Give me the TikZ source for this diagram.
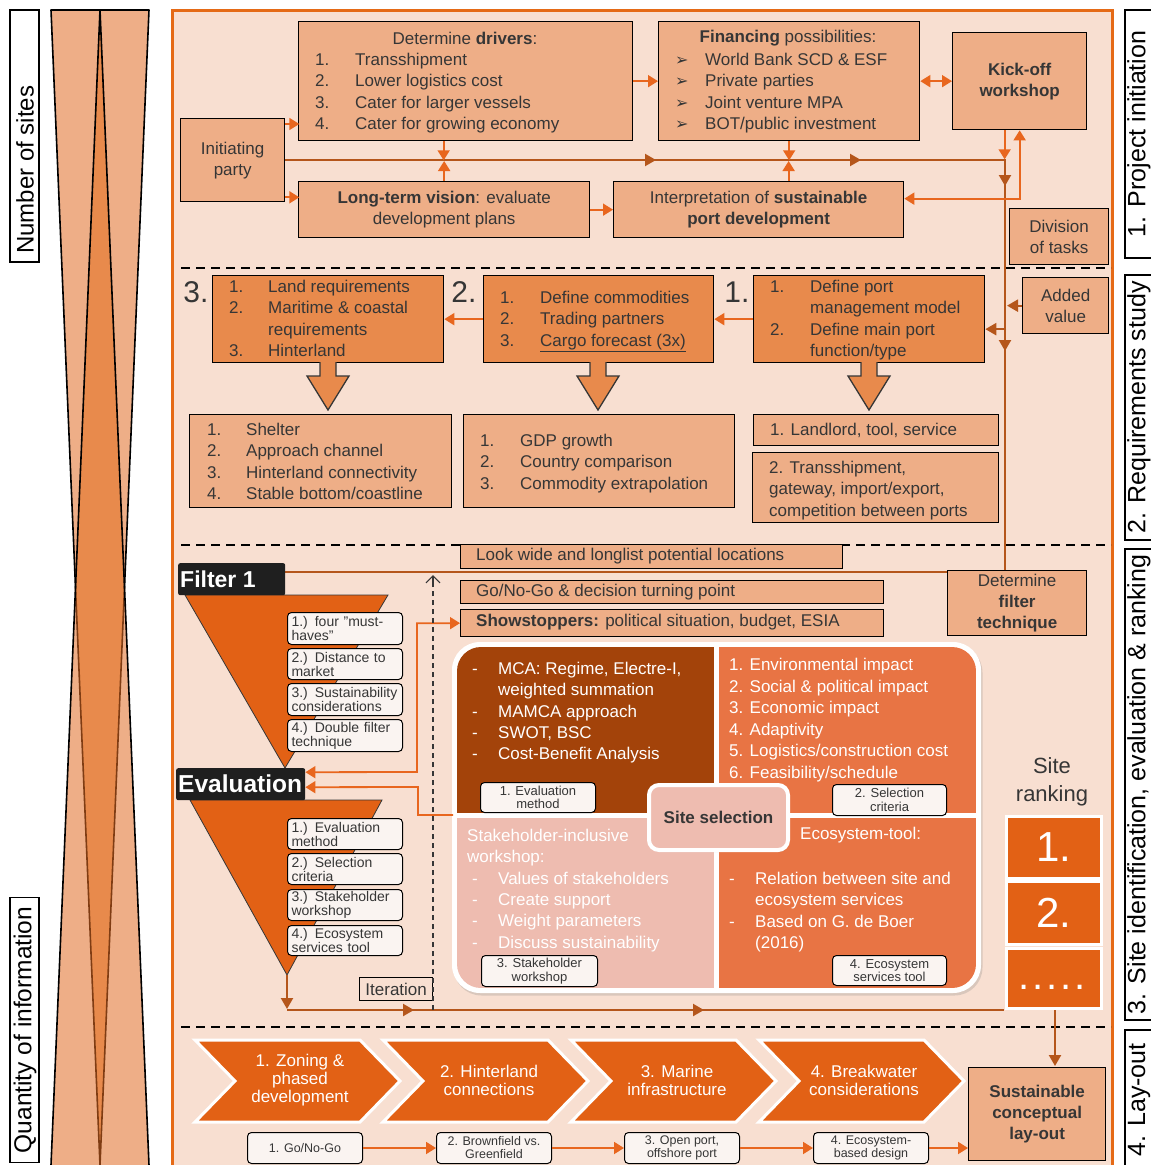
\documentclass[tikz,border=0pt]{standalone}
\usepackage{fontspec}
\setmainfont{Liberation Sans}
\newfontfamily\dv{DejaVu Sans}
\usetikzlibrary{arrows.meta,shadows,calc}
\definecolor{bg}{HTML}{F8DFD1}
\definecolor{lo}{HTML}{EEAE87}
\definecolor{mo}{HTML}{E88A4C}
\definecolor{dor}{HTML}{E26115}
\definecolor{frm}{HTML}{E56A16}
\definecolor{brn}{HTML}{B5561B}
\definecolor{oar}{HTML}{E8661E}
\definecolor{qtl}{HTML}{A3430A}
\definecolor{qtr}{HTML}{E87444}
\definecolor{qbl}{HTML}{EEBCB0}
\definecolor{wbx}{HTML}{FAF4F1}
\definecolor{txt}{HTML}{363636}
\newcommand\fz[2]{\fontsize{#1}{#2}\selectfont}
\newcommand\numbx[2]{\makebox[#1][l]{#2}}
\newcommand\bxat[7]{\node[#1, minimum width=#4-#2, minimum height=#5-#3, anchor=north west] (#6) at (#2,#3) {#7};}
\newcommand\bul{{\dv\fz{16}{16}➢}}
\tikzset{
 bx/.style={draw=black, line width=1.3pt, fill=lo, inner sep=0pt, text=txt, font=\fz{17}{21}, align=center},
 bxm/.style={bx, fill=mo},
 tx/.style={inner sep=0pt, text=txt, font=\fz{17}{21.3}, align=left, anchor=north west},
 wt/.style={tx, text=white},
 sm/.style={draw=black, line width=1pt, fill=wbx, rounded corners=4pt, inner sep=0pt, text=txt, font=\fz{13}{13.5}, align=center},
 smf/.style={sm, align=left, inner xsep=4pt, text width=107pt, font=\fz{14}{14}},
 smb/.style={sm, font=\fz{12.5}{13}},
 oa/.style={draw=oar, line width=1.8pt, -{Triangle[length=10pt,width=12pt]}},
 oab/.style={draw=oar, line width=1.8pt, {Triangle[length=10pt,width=12pt]}-{Triangle[length=10pt,width=12pt]}},
 bl/.style={draw=brn, line width=2.2pt},
 ba/.style={bl, -{Triangle[length=11pt,width=12pt]}},
 sepline/.style={draw=black, line width=2.2pt, dash pattern=on 9pt off 6pt},
 lab/.style={draw=black, line width=1.8pt, fill=white, inner sep=0pt},
 rk/.style={fill=dor, draw=white, line width=3pt, text=white, inner sep=0pt, font=\fz{42}{42}},
 chev/.style={fill=dor, draw=white, line width=3pt, line join=miter},
 chevt/.style={text=white, font=\fz{17}{18}, align=center, inner sep=0pt},
 tri/.style={fill=dor, draw=txt, line width=0.8pt},
 blk/.style={fill=black!88, rounded corners=2pt, inner sep=0pt},
 blkt/.style={text=white, inner sep=0pt, anchor=west},
}
\begin{document}
\begin{tikzpicture}[x=1pt,y=-1pt]
\useasboundingbox (0,0) rectangle (1151,1165);
% left hourglass
\fill[lo] (51,10) -- (149,10) -- (100,1165) -- cycle;
\fill[lo] (100,10) -- (149,1165) -- (51,1165) -- cycle;
\fill[mo] (100,10) -- (124.5,587.5) -- (100,1165) -- (75.5,587.5) -- cycle;
\draw[black, line width=1.6pt, line join=round] (75.5,587.5) -- (51,10) -- (149,10) -- (124.5,587.5);
\draw[brn!70!black, line width=1.6pt] (75.5,587.5) -- (100,1165) -- (124.5,587.5);
\draw[black, line width=1.6pt] (51,1165) -- (100,10) -- (149,1165);
% left labels
\node[lab, rotate=90, minimum width=252, minimum height=29] (nos) at (24.5,136) {};
\node[rotate=90, anchor=west, inner sep=0pt, font=\fz{24}{24}] (nost) at (25,254) {Number of sites};
\node[lab, rotate=90, minimum width=265, minimum height=29] (qoi) at (24.5,1030) {};
\node[rotate=90, inner sep=0pt, font=\fz{24.5}{24.5}] (qoit) at (25,1030) {Quantity of information};
% right labels
\node[lab, rotate=90, minimum width=248, minimum height=28, font=\fz{25}{25}] (p1) at (1139,134) {1. Project initiation};
\node[lab, rotate=90, minimum width=265, minimum height=28, font=\fz{25}{25}] (p2) at (1139,407.5) {2. Requirements study};
\node[lab, rotate=90, minimum width=471, minimum height=28, font=\fz{25}{25}] (p3) at (1139,784.5) {3. Site identification, evaluation \& ranking};
\node[lab, rotate=90, minimum width=140, minimum height=28, font=\fz{25}{25}] (p4) at (1139,1100) {4. Lay-out};
% main frame
\draw[frm, line width=3pt, fill=bg] (172,10) rectangle (1112,1180);
% brown main lines
\draw[bl] (284,160) -- (1005,160) -- (1005,572) -- (285,572);
\draw[ba] (640,160) -- (656,160);
\draw[ba] (845,160) -- (861,160);
\draw[ba] (1005,168) -- (1005,186);
\draw[ba] (1005,333) -- (1005,351);
% separators
\draw[sepline] (181,268) -- (1111,268);
\draw[sepline] (181,545) -- (1111,545);
\draw[sepline] (181,1027) -- (1111,1027);
% ---------- section 1
\bxat{bx}{180}{118}{284}{201}{ini}{Initiating\\party}
\bxat{bx}{298}{21}{632}{140}{drv}{}
\node[tx, anchor=center] (drvt) at (465,38) {Determine \textbf{drivers}:};
\node[tx] (drvl) at (315,53) {\numbx{40pt}{1.}Transshipment\\\numbx{40pt}{2.}Lower logistics cost\\\numbx{40pt}{3.}Cater for larger vessels\\\numbx{40pt}{4.}Cater for growing economy};
\bxat{bx}{658}{21}{919}{140}{fin}{}
\node[tx, anchor=center] (fint) at (788,38) {\textbf{Financing} possibilities:};
\node[tx] (finl) at (675,53) {\numbx{30pt}{\bul}World Bank SCD \& ESF\\\numbx{30pt}{\bul}Private parties\\\numbx{30pt}{\bul}Joint venture MPA\\\numbx{30pt}{\bul}BOT/public investment};
\bxat{bx}{952}{32}{1086}{129}{kick}{\textbf{Kick-off}\\\textbf{workshop}}
\bxat{bx}{298}{181}{589}{237}{ltv}{\textbf{Long-term vision}: evaluate\\development plans}
\bxat{bx}{613}{181}{903}{237}{itp}{Interpretation of \textbf{sustainable}\\\textbf{port development}}
\bxat{bx}{1009}{208}{1108}{264}{div}{Division\\of tasks}
\draw[oa] ([yshift=-6pt]ini.north east) -- ++(14,0);
\draw[oa] ([yshift=5pt]ini.south east) -- ++(14,0);
\draw[oa] (drv.east) -- (fin.west);
\draw[oab] (fin.east) -- (kick.west);
\draw[oa] (ltv.east) -- (itp.west);
\draw[oa] ([xshift=-22pt]drv.south) -- ++(0,19);
\draw[oa] (ltv.north) -- ++(0,-20);
\draw[oa] (fin.south) -- ++(0,19);
\draw[oa] ([xshift=30pt]itp.north) -- ++(0,-20);
\draw[oa] ([xshift=-15pt]kick.south) -- ++(0,29);
\draw[oab] ([yshift=11pt]itp.east) -| (kick.south);
% ---------- section 2
\bxat{bx}{1022}{277}{1108}{333}{adv}{Added\\value}
\draw[ba] (adv.west) -- ++(-15,0);
\node[tx, anchor=center, font=\fz{30}{30}] (n3) at (196,292) {3.};
\node[tx, anchor=center, font=\fz{30}{30}] (n2) at (464,292) {2.};
\node[tx, anchor=center, font=\fz{30}{30}] (n1) at (737,292) {1.};
\bxat{bxm}{212}{275}{443}{362}{rq3}{}
\node[tx] (rq3t) at (229,280) {\numbx{39pt}{1.}Land requirements\\\numbx{39pt}{2.}Maritime \& coastal\\\numbx{39pt}{}requirements\\\numbx{39pt}{3.}Hinterland};
\bxat{bxm}{483}{275}{713}{362}{rq2}{}
\node[tx] (rq2t) at (500,291) {\numbx{40pt}{1.}Define commodities\\\numbx{40pt}{2.}Trading partners\\\numbx{40pt}{3.}\underline{Cargo forecast (3x)}};
\bxat{bxm}{753}{275}{984}{362}{rq1}{}
\node[tx] (rq1t) at (770,280) {\numbx{40pt}{1.}Define port\\\numbx{40pt}{}management model\\\numbx{40pt}{2.}Define main port\\\numbx{40pt}{}function/type};
\draw[oa] (rq2.west) -- (rq3.east);
\draw[oa] (rq1.west) -- (rq2.east);
\draw[ba] ($(rq1.east)+(21,10)$) -- ([yshift=-10pt]rq1.east);
\foreach \cx in {328,598,869}{
  \fill[mo] (\cx-8,360) -- (\cx-8,376) -- (\cx-21,376) -- (\cx,410) -- (\cx+21,376) -- (\cx+8,376) -- (\cx+8,360) -- cycle;
  \draw[txt, line width=1.3pt, line join=miter] (\cx-8,362) -- (\cx-8,376) -- (\cx-21,376) -- (\cx,410) -- (\cx+21,376) -- (\cx+8,376) -- (\cx+8,362);
}
\bxat{bx}{189}{414}{451}{507}{shl}{}
\node[tx] (shlt) at (207,423) {\numbx{39pt}{1.}Shelter\\\numbx{39pt}{2.}Approach channel\\\numbx{39pt}{3.}Hinterland connectivity\\\numbx{39pt}{4.}Stable bottom/coastline};
\bxat{bx}{463}{414}{734}{507}{gdp}{}
\node[tx] (gdpt) at (480,434) {\numbx{40pt}{1.}GDP growth\\\numbx{40pt}{2.}Country comparison\\\numbx{40pt}{3.}Commodity extrapolation};
\bxat{bx}{753}{414}{998}{445}{lnd}{}
\node[tx, anchor=west] (lndt) at (770,430) {1. Landlord, tool, service};
\bxat{bx}{752}{452}{998}{522}{trs}{}
\node[tx] (trst) at (769,461) {2. Transshipment,\\gateway, import/export,\\competition between ports};
% ---------- section 3
\bxat{bx}{460}{544}{842}{568}{look}{}
\node[tx, anchor=west] (lookt) at (476,556) {Look wide and longlist potential locations};
\bxat{bx}{460}{580}{883}{603}{gng}{}
\node[tx, anchor=west] (gngt) at (476,592) {Go/No-Go \& decision turning point};
\bxat{bx}{460}{609}{883}{636}{shw}{}
\node[tx, anchor=west] (shwt) at (476,622) {\textbf{Showstoppers:} political situation, budget, ESIA};
\bxat{bx}{947}{570}{1086}{635}{dft}{Determine\\\textbf{filter}\\\textbf{technique}}
% funnels
\filldraw[tri] (185,595) -- (388,595) -- (285,768) -- cycle;
\filldraw[tri] (190,800) -- (382,800) -- (287,975) -- cycle;
\bxat{blk}{178}{563}{285}{595}{f1}{}
\node[blkt, font=\fz{23}{23}\bfseries] (f1t) at (180,579) {Filter 1};
\bxat{blk}{176}{768}{305}{800}{ev}{}
\node[blkt, font=\fz{24.5}{24.5}\bfseries] (evt) at (178,784) {Evaluation};
\bxat{smf}{287}{612}{402}{644}{fa}{1.) four "must-\\haves"}
\bxat{smf}{287}{648}{402}{679}{fb}{2.) Distance to\\market}
\bxat{smf}{287}{683}{402}{715}{fc}{3.) Sustainability\\considerations}
\bxat{smf}{287}{719}{402}{751}{fd}{4.) Double filter\\technique}
\bxat{smf}{287}{818}{402}{849}{ea}{1.) Evaluation\\method}
\bxat{smf}{287}{853}{402}{884}{eb}{2.) Selection\\criteria}
\bxat{smf}{287}{889}{402}{920}{ec}{3.) Stakeholder\\workshop}
\bxat{smf}{287}{925}{402}{955}{ed}{4.) Ecosystem\\services tool}
% central square
\fill[white, rounded corners=28pt, drop shadow={shadow xshift=1.5pt, shadow yshift=-2.5pt, opacity=0.25}] (452,642) rectangle (981,993);
\begin{scope}
\clip[rounded corners=24pt] (457,647) rectangle (976,988);
\fill[qtl] (457,647) rectangle (714,813);
\fill[qtr] (719,647) rectangle (976,813);
\fill[qbl] (457,818) rectangle (714,988);
\fill[qtr] (719,818) rectangle (976,988);
\end{scope}
\coordinate (sqw) at (453,815);
\node[wt] (tlt) at (472,662) {\numbx{26pt}{-}MCA: Regime, Electre-I,\\\numbx{26pt}{}weighted summation\\\numbx{26pt}{-}MAMCA approach\\\numbx{26pt}{-}SWOT, BSC\\\numbx{26pt}{-}Cost-Benefit Analysis};
\node[wt, font=\fz{17}{21.6}] (trt) at (729,658) {1. Environmental impact\\2. Social \& political impact\\3. Economic impact\\4. Adaptivity\\5. Logistics/construction cost\\6. Feasibility/schedule};
\node[wt] (blt) at (467,829) {Stakeholder-inclusive\\workshop:\\\hspace*{5pt}\numbx{26pt}{-}Values of stakeholders\\\hspace*{5pt}\numbx{26pt}{-}Create support\\\hspace*{5pt}\numbx{26pt}{-}Weight parameters\\\hspace*{5pt}\numbx{26pt}{-}Discuss sustainability};
\node[wt, anchor=west] (brh) at (800,835) {Ecosystem-tool:};
\node[wt] (brt) at (729,872) {\numbx{26pt}{-}Relation between site and\\\numbx{26pt}{}ecosystem services\\\numbx{26pt}{-}Based on G. de Boer\\\numbx{26pt}{}(2016)};
\bxat{sm}{480}{782}{595}{812}{q1}{1. Evaluation\\method}
\bxat{sm}{832}{784}{946}{815}{q2}{2. Selection\\criteria}
\bxat{sm}{481}{955}{597}{986}{q3}{3. Stakeholder\\workshop}
\bxat{sm}{832}{955}{946}{985}{q4}{4. Ecosystem\\services tool}
\node[fill=qbl, draw=white, line width=4pt, rounded corners=10pt, inner sep=0pt, minimum width=139, minimum height=65, anchor=north west, text=txt, font=\fz{17}{21}\bfseries, drop shadow={shadow xshift=1pt, shadow yshift=-2pt, opacity=0.25}] (ssel) at (647,783) {Site selection};
% orange feedback arrows
\draw[oab] (shw.west) -| (417,772) -- ([yshift=12pt]ev.east);
\draw[oa] (sqw) -| (418,787) -- ([yshift=-3pt]ev.east);
% ranking
\node[text=txt, font=\fz{22}{28}, align=center, inner sep=0pt] (srk) at (1052,782) {Site\\ranking};
\bxat{rk}{1005}{815}{1100}{877}{r1}{1.}
\bxat{rk}{1005}{880}{1100}{943}{r2}{2.}
\bxat{rk}{1005}{947}{1100}{1007}{r3}{}
\node[text=white, inner sep=0pt, font=\fz{40}{40}] (r3t) at (1052,987) {.\hspace{3pt}.\hspace{3pt}.\hspace{3pt}.\hspace{3pt}.};
% bottom brown line and iteration
\coordinate (apx) at (287,975);
\draw[ba] (apx) -- (287,1009);
\draw[bl] (287,1010) -- (1004,1010);
\draw[ba] (396,1010) -- (414,1010);
\draw[ba] (686,1010) -- (704,1010);
\node[fill=bg, inner sep=0pt, minimum width=73, minimum height=23, anchor=north west, text=txt, font=\fz{17}{17}, draw=black, line width=1.3pt] (itr) at (359,977) {Iteration};
\draw[draw=txt, line width=1.2pt, dash pattern=on 5pt off 4pt] (433,1010) -- (433,582);
\draw[draw=txt, line width=1.2pt, -{Straight Barb[length=7pt,width=14pt]}] (433,584) -- (433,575);
% ---------- section 4
\draw[chev] (195,1040) -- (360,1040) -- (400,1081) -- (360,1122) -- (195,1122) -- (235,1081) -- cycle;
\draw[chev] (383,1040) -- (548,1040) -- (588,1081) -- (548,1122) -- (383,1122) -- (423,1081) -- cycle;
\draw[chev] (571,1040) -- (736,1040) -- (776,1081) -- (736,1122) -- (571,1122) -- (611,1081) -- cycle;
\draw[chev] (759,1040) -- (924,1040) -- (964,1081) -- (924,1122) -- (759,1122) -- (799,1081) -- cycle;
\node[chevt] (c1) at (300,1080) {1. Zoning \&\\phased\\development};
\node[chevt] (c2) at (489,1080) {2. Hinterland\\connections};
\node[chevt] (c3) at (677,1080) {3. Marine\\infrastructure};
\node[chevt] (c4) at (864,1080) {4. Breakwater\\considerations};
\bxat{smb}{247}{1132}{362}{1163}{b1}{1. Go/No-Go}
\bxat{smb}{436}{1132}{551}{1163}{b2}{2. Brownfield vs.\\Greenfield}
\bxat{smb}{624}{1132}{739}{1163}{b3}{3. Open port,\\offshore port}
\bxat{smb}{813}{1132}{928}{1163}{b4}{4. Ecosystem-\\based design}
\bxat{bx}{968}{1067}{1105}{1160}{slo}{\textbf{Sustainable}\\\textbf{conceptual}\\\textbf{lay-out}}
\draw[oa] (b1.east) -- (b2.west);
\draw[oa] (b2.east) -- (b3.west);
\draw[oa] (b3.east) -- (b4.west);
\draw[oa] (b4.east) -- (b4.east -| slo.west);
\draw[ba] (r3.south -| 1055,0) -- (1055,1066);
\end{tikzpicture}
\end{document}
